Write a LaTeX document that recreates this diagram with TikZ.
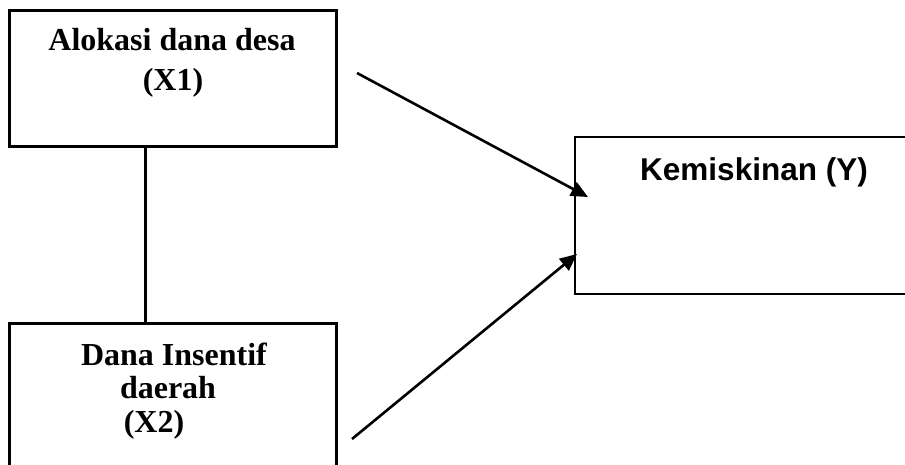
\documentclass[tikz,border=0pt]{standalone}
\usepackage{fontspec}
\setmainfont{Liberation Serif}
\newfontfamily\arialfont{Liberation Sans}
\usetikzlibrary{arrows.meta}
\tikzset{
  box/.style={draw, line width=3pt, rectangle, inner sep=0pt, outer sep=0pt, anchor=north west},
  sertext/.style={font=\fontsize{32}{38}\selectfont\bfseries, anchor=base, inner sep=0pt},
  santext/.style={font=\fontsize{31.5}{38}\selectfont\arialfont\bfseries, anchor=base, inner sep=0pt},
  conn/.style={line width=3pt},
  arr/.style={line width=2.6pt, -{Triangle[length=17pt,width=15pt]}}
}
\begin{document}
\begin{tikzpicture}[x=1pt,y=-1pt]
\clip (0,0) rectangle (905,464);
\fill[white] (0,0) rectangle (905,464);
% boxes
\node[box, minimum width=327pt, minimum height=136pt] (x1) at (9,10) {};
\node[box, minimum width=327pt, minimum height=170pt] (x2) at (9,323) {};
\node[box, line width=2.2pt, minimum width=360pt, minimum height=157pt] (y) at (575,137) {};
% texts
\node[sertext] (t1a) at (172,50) {Alokasi dana desa};
\node[sertext] (t1b) at (173,90) {(X1)};
\node[sertext] (t2a) at (174,365) {Dana Insentif};
\node[sertext] (t2b) at (168,398) {daerah};
\node[sertext] (t2c) at (154,432) {(X2)};
\node[santext] (ty) at (754,180) {Kemiskinan (Y)};
% connectors
\draw[conn] ([xshift=-27.5pt]x1.south) -- ([xshift=-27.5pt]x1.south |- x2.north);
\coordinate (s1) at (357,73);
\coordinate (s2) at (352,439);
\draw[arr] (s1) -- ([xshift=13pt,yshift=-60pt]y.north west);
\draw[arr] (s2) -- ([xshift=2pt,yshift=-117pt]y.north west);
\end{tikzpicture}
\end{document}
